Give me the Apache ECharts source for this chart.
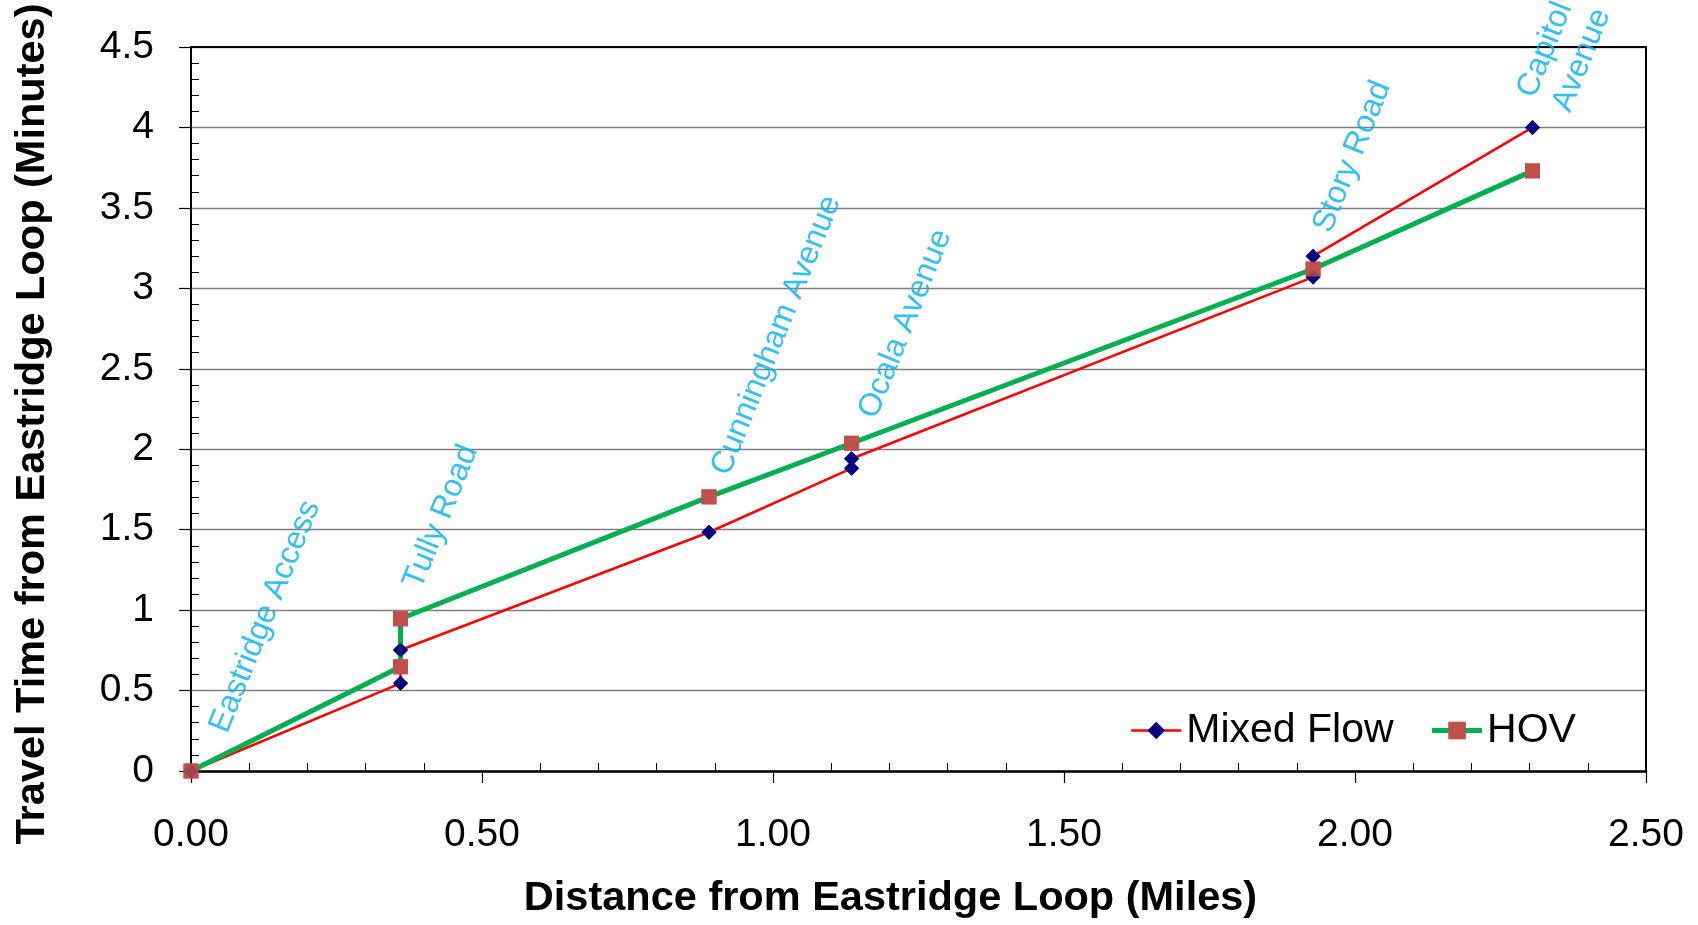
<!DOCTYPE html>
<html><head><meta charset="utf-8">
<script src="https://cdn.jsdelivr.net/npm/echarts@6/dist/echarts.min.js"></script>
<style>html,body{margin:0;padding:0;background:#fff}#c{width:1698px;height:925px}</style>
</head><body><div id="c"></div>
<script>
// ---- data ----
const mixedDist = [0, 0.36, 0.36, 0.89, 1.135, 1.135, 1.928, 1.928, 2.305];
const mixedTime = [0, 0.545, 0.752, 1.484, 1.881, 1.941, 3.07, 3.20, 4.0];
const hovDist = [0, 0.36, 0.36, 0.89, 1.135, 1.928, 2.305];
const hovTime = [0, 0.648, 0.946, 1.704, 2.037, 3.12, 3.73];
const stationNames = ['Eastridge Access', 'Tully Road', 'Cunningham Avenue', 'Ocala Avenue', 'Story Road', 'Capitol\nAvenue'];
const stationLabelX = [0.079, 0.412, 0.941, 1.194, 1.975, 2.386];
const stationLabelY = [0.20, 1.095, 1.80, 2.155, 3.31, 4.06];
const xTicks = [0, 0.5, 1.0, 1.5, 2.0, 2.5];
const yTicks = [0, 0.5, 1, 1.5, 2, 2.5, 3, 3.5, 4, 4.5];
const seriesNames = ['Mixed Flow', 'HOV'];
const xTitle = 'Distance from Eastridge Loop (Miles)';
const yTitle = 'Travel Time from Eastridge Loop (Minutes)';

const FONT = '"Liberation Sans", Arial, sans-serif';
const zip = (a, b) => a.map((v, i) => [v, b[i]]);
const mixedData = zip(mixedDist, mixedTime);
const hovData = zip(hovDist, hovTime);
const stationData = stationNames.map((n, i) => ({ name: n, value: [stationLabelX[i], stationLabelY[i]] }));

const chart = echarts.init(document.getElementById('c'), null, { renderer: 'canvas' });
chart.setOption({
  animation: false,
  backgroundColor: '#fff',
  grid: { left: 191, right: 52, top: 47, bottom: 154, containLabel: false },
  legend: {
    data: seriesNames,
    left: 1130, top: 710,
    itemWidth: 50, itemHeight: 22, itemGap: 36,
    padding: 0,
    lineStyle: { width: 'inherit' },
    textStyle: { fontSize: 41, fontFamily: FONT, color: '#000' }
  },
  xAxis: [{
    type: 'value', min: xTicks[0], max: xTicks[xTicks.length - 1], interval: 0.5,
    name: xTitle, nameLocation: 'middle', nameGap: 107,
    nameTextStyle: { fontSize: 41.5, fontWeight: 'bold', fontFamily: FONT, color: '#000', padding: [0, 56, 0, 0] },
    axisLine: { show: true, onZero: false, lineStyle: { color: '#000', width: 2.5 } },
    axisTick: { show: true, inside: false, length: 12, lineStyle: { color: '#000', width: 1.2 } },
    minorTick: { show: true, splitNumber: 5, length: -8, lineStyle: { color: '#000', width: 1 } },
    axisLabel: { fontSize: 39, fontFamily: FONT, color: '#000', margin: 45, formatter: v => v.toFixed(2) },
    splitLine: { show: false }
  }, {
    type: 'value', position: 'top', min: xTicks[0], max: xTicks[xTicks.length - 1],
    axisLine: { show: true, onZero: false, lineStyle: { color: '#000', width: 2 } },
    axisTick: { show: false }, axisLabel: { show: false }, splitLine: { show: false }
  }],
  yAxis: [{
    type: 'value', min: yTicks[0], max: yTicks[yTicks.length - 1], interval: 0.5,
    name: yTitle, nameLocation: 'middle', nameGap: 137,
    nameTextStyle: { fontSize: 41.5, fontWeight: 'bold', fontFamily: FONT, color: '#000', padding: [0, 30, 0, 0] },
    axisLine: { show: true, onZero: false, lineStyle: { color: '#000', width: 2 } },
    axisTick: { show: true, inside: false, length: 12, lineStyle: { color: '#000', width: 1.2 } },
    minorTick: { show: true, splitNumber: 5, length: -8, lineStyle: { color: '#000', width: 1 } },
    axisLabel: { fontSize: 39, fontFamily: FONT, color: '#000', margin: 37 },
    splitLine: { show: true, lineStyle: { color: '#808080', width: 1.3 } }
  }, {
    type: 'value', position: 'right', min: yTicks[0], max: yTicks[yTicks.length - 1],
    axisLine: { show: true, onZero: false, lineStyle: { color: '#000', width: 2 } },
    axisTick: { show: false }, axisLabel: { show: false }, splitLine: { show: false }
  }],
  series: [
    {
      name: seriesNames[0], type: 'line', data: mixedData, z: 2,
      symbol: 'diamond', symbolSize: 15, showSymbol: true,
      lineStyle: { color: '#FF0000', width: 2.5 },
      itemStyle: { color: '#000080', borderWidth: 0 },
      emphasis: { disabled: true }
    },
    {
      name: seriesNames[1], type: 'line', data: hovData, z: 3,
      symbol: 'rect', symbolSize: 15, showSymbol: true,
      lineStyle: { color: '#00B050', width: 5 },
      itemStyle: { color: '#C0504D', borderWidth: 0 },
      emphasis: { disabled: true }
    },
    {
      type: 'scatter', data: mixedData, z: 4, symbol: 'diamond', symbolSize: 15,
      itemStyle: { color: '#000080' }, emphasis: { disabled: true }, silent: true
    },
    {
      type: 'scatter', data: hovData, z: 5, symbol: 'rect', symbolSize: 15,
      itemStyle: { color: '#C0504D' }, emphasis: { disabled: true }, silent: true
    },
    {
      type: 'scatter', data: stationData, z: 6, symbolSize: 1,
      itemStyle: { color: 'rgba(0,0,0,0)' }, silent: true, clip: false,
      label: {
        show: true, formatter: '{b}', position: [0, 0], rotate: 68,
        align: 'left', verticalAlign: 'bottom',
        fontSize: 32, lineHeight: 38, fontFamily: FONT, color: '#00B0F0'
      },
      emphasis: { disabled: true }
    }
  ]
});
</script>
</body></html>
